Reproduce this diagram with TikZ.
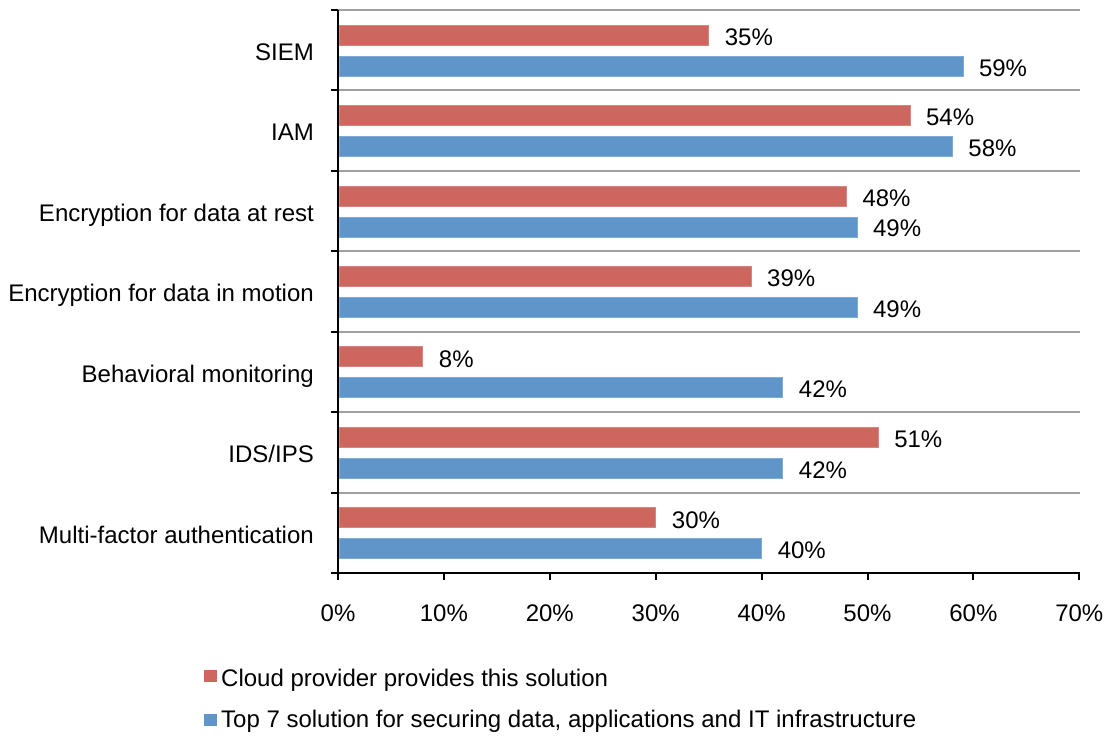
\documentclass[tikz,border=0pt]{standalone}
\usepackage{fontspec}
\setmainfont{Liberation Sans}
\definecolor{redbar}{HTML}{CD665F}
\definecolor{bluebar}{HTML}{5F95C8}
\definecolor{gridgray}{HTML}{A0A0A0}
\tikzset{
  txt/.style={inner sep=0pt, font=\fontsize{24}{28}\selectfont},
  catlabel/.style={txt, anchor=base east},
  vallabel/.style={txt, anchor=base west},
  ticklabel/.style={txt, anchor=base},
  leglabel/.style={txt, anchor=base west},
  gridline/.style={draw=gridgray, line width=2pt},
  axisline/.style={draw=black, line width=2pt},
  redfill/.style={fill=redbar, draw=redbar!80!white, line width=0.6pt},
  bluefill/.style={fill=bluebar, draw=bluebar!80!white, line width=0.6pt}
}
\begin{document}
\begin{tikzpicture}[x=1pt,y=-1pt]
\useasboundingbox (0,0) rectangle (1109,736);
% gridlines
\foreach \i in {0,...,6} {
  \pgfmathsetmacro\gy{10+80.43*\i}
  \draw[gridline] (338,\gy) -- (1080,\gy);
}
% bars and labels
\foreach [count=\i from 0] \n/\r/\b in {SIEM/35/59, IAM/54/58, Encryption for data at rest/48/49, Encryption for data in motion/39/49, Behavioral monitoring/8/42, {IDS/IPS}/51/42, Multi-factor authentication/30/40} {
  \pgfmathsetmacro\t{10+80.43*\i}
  \pgfmathsetmacro\re{338+\r*10.59}
  \pgfmathsetmacro\be{338+\b*10.59}
  \node[catlabel] (cat\i) at (314,\t+50.5) {\n};
  \path[redfill] (339,\t+15) rectangle (\re,\t+35);
  \path[bluefill] (339,\t+46) rectangle (\be,\t+66);
  \node[vallabel] (rv\i) at (\re+16,\t+35.5) {\r\%};
  \node[vallabel] (bv\i) at (\be+16,\t+66) {\b\%};
}
% axes
\coordinate (o) at (338,573);
\coordinate (top) at (338,10);
\coordinate (xend) at (1080,573);
\draw[axisline] (top) -- (o) -- (xend);
\foreach \i in {0,...,7} {
  \pgfmathsetmacro\gy{10+80.43*\i}
  \draw[axisline] (331,\gy) -- (338,\gy);
}
\foreach \k in {0,...,7} {
  \pgfmathsetmacro\tx{338+105.9*\k}
  \pgfmathtruncatemacro\pct{10*\k}
  \draw[axisline] (\tx,573) -- (\tx,580);
  \node[ticklabel] (tick\k) at (\tx,621.5) {\pct\%};
}
% legend
\fill[redbar] (204,670) rectangle (217,682);
\node[leglabel] (leg1) at (221,686) {Cloud provider provides this solution};
\fill[bluebar] (204,714) rectangle (217,726);
\node[leglabel] (leg2) at (221,727) {Top 7 solution for securing data, applications and IT infrastructure};
\end{tikzpicture}
\end{document}
